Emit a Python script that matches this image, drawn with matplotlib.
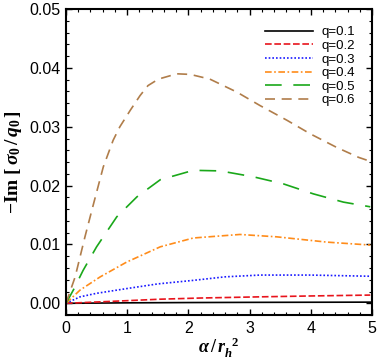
import matplotlib
matplotlib.use("Agg")
import matplotlib.pyplot as plt
from matplotlib.ticker import MultipleLocator
import numpy as np

plt.rcParams['font.family'] = ['Liberation Sans', 'DejaVu Sans']
plt.rcParams['mathtext.fontset'] = 'custom'
plt.rcParams['mathtext.rm'] = 'Liberation Serif:bold'
plt.rcParams['mathtext.it'] = 'Liberation Serif:italic:bold'
plt.rcParams['mathtext.bf'] = 'Liberation Serif:bold'

labels = ["q=0.1", "q=0.2", "q=0.3", "q=0.4", "q=0.5", "q=0.6"]
colors = ["black", "#e8141c", "#1a1aff", "#ff8c1a", "#1aa81a", "#b07d4a"]

x_q1 = [0, 1, 2, 3, 4, 5]
y_q1 = [0, 0.00008, 0.00013, 0.00016, 0.00018, 0.0002]

x_q2 = [0, 0.45, 1.0, 1.54, 2.2, 3.17, 4.0, 4.97]
y_q2 = [0, 0.0002, 0.00045, 0.0007, 0.0009, 0.0011, 0.00125, 0.0014]

x_q3 = [0, 0.23, 0.5, 0.99, 1.5, 2.08, 2.6, 3.17, 3.99, 4.97]
y_q3 = [0, 0.0011, 0.0017, 0.0025, 0.0033, 0.0039, 0.0045, 0.0048, 0.0048, 0.0046]

x_q4 = [0, 0.23, 0.56, 0.99, 1.54, 2.08, 2.84, 3.44, 4.26, 4.97]
y_q4 = [0, 0.00225, 0.0045, 0.0070, 0.0096, 0.0111, 0.0117, 0.0113, 0.0104, 0.0099]

x_q5 = [0, 0.12, 0.28, 0.5, 0.83, 1.16, 1.54, 2.08, 2.52, 3.06, 3.55, 4.04, 4.53, 4.97]
y_q5 = [0, 0.00225, 0.0056, 0.0096, 0.0147, 0.0181, 0.0210, 0.0226, 0.0225, 0.0215, 0.0203, 0.0186, 0.0172, 0.0164]

x_q6 = [0, 0.15, 0.31, 0.45, 0.61, 0.77, 0.88, 1.05, 1.21, 1.34, 1.51, 1.81, 2.03, 2.35, 2.79, 3.17, 3.61, 3.99, 4.42, 4.78, 4.95]
y_q6 = [0, 0.0045, 0.0113, 0.0169, 0.0232, 0.0277, 0.0300, 0.0328, 0.0353, 0.0370, 0.0381, 0.0390, 0.0389, 0.0381, 0.0359, 0.0336, 0.0311, 0.0288, 0.0265, 0.0248, 0.0242]

xs = [x_q1, x_q2, x_q3, x_q4, x_q5, x_q6]
ys = [y_q1, y_q2, y_q3, y_q4, y_q5, y_q6]
dashes = [None, (4, 1.6), (1, 1.2), (4, 1.5, 1, 1.5), (10, 7), (6, 4)]

fig = plt.figure(figsize=(3.77, 3.63), dpi=100)
ax = fig.add_axes([0.175, 0.132, 0.812, 0.843])

for xv, yv, c, d, lab in zip(xs, ys, colors, dashes, labels):
    line, = ax.plot(xv, yv, color=c, lw=1.2, label=lab)
    if d is not None:
        line.set_dashes(d)

ax.set_xlim(0, 5)
ax.set_ylim(-0.002, 0.05)
ax.xaxis.set_major_locator(MultipleLocator(1))
ax.xaxis.set_minor_locator(MultipleLocator(0.2))
ax.yaxis.set_major_locator(MultipleLocator(0.01))
ax.yaxis.set_minor_locator(MultipleLocator(0.002))
ax.yaxis.set_major_formatter(matplotlib.ticker.FormatStrFormatter('%.2f'))
ax.tick_params(which='both', direction='in', top=True, right=True, labelsize=11.5, pad=4)
ax.tick_params(which='major', length=4, width=1.0)
ax.tick_params(which='minor', length=2, width=0.8)
for s in ax.spines.values():
    s.set_linewidth(1.5)

ax.set_xlabel(r'$\alpha\,/\,r_h^{\ \ 2}$', fontsize=13, labelpad=0)
ax.set_ylabel(r'$\mathrm{-Im}\ [\,\sigma_0\,/\,q_0\,]$', fontsize=14, labelpad=4)

ax.legend(loc='upper right', frameon=False, fontsize=9.5, handlelength=3.7,
          labelspacing=0.1, borderaxespad=0.9, handletextpad=0.6)

fig.savefig("out.png", dpi=100)
